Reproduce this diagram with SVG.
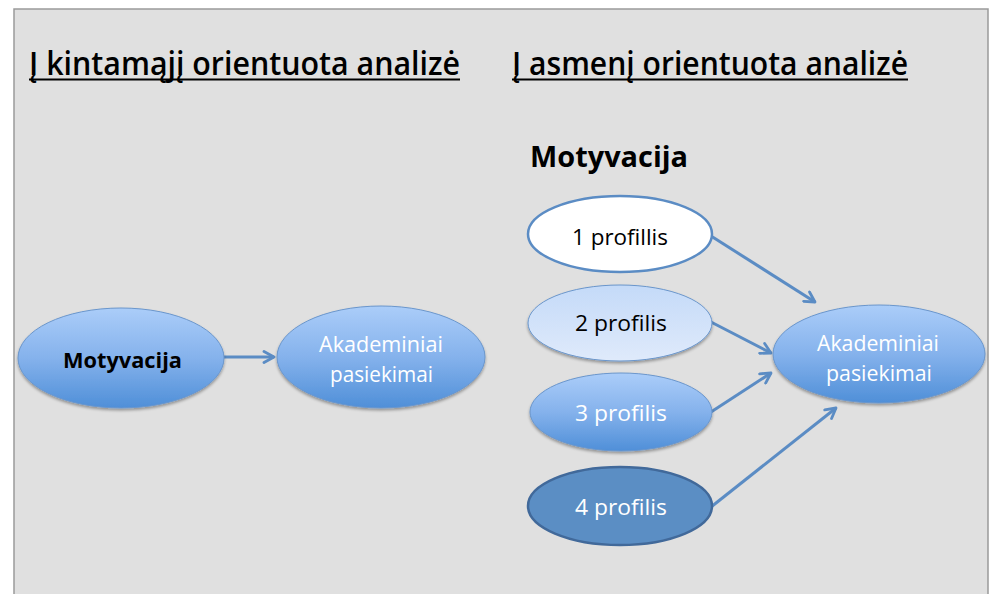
<svg xmlns="http://www.w3.org/2000/svg" width="990" height="594" viewBox="0 0 990 594">
<defs>
<linearGradient id="gBlue" x1="0" y1="0" x2="0" y2="1">
<stop offset="0" stop-color="#abcdf9"/>
<stop offset="0.5" stop-color="#85b2ec"/>
<stop offset="1" stop-color="#4f8fd8"/>
</linearGradient>
<linearGradient id="gLight" x1="0" y1="0" x2="0" y2="1">
<stop offset="0" stop-color="#c4daf8"/>
<stop offset="1" stop-color="#dfeafb"/>
</linearGradient>
<filter id="sh" x="-10%" y="-10%" width="120%" height="130%">
<feGaussianBlur in="SourceAlpha" stdDeviation="1.5"/>
<feOffset dx="0" dy="2" result="b"/>
<feComponentTransfer><feFuncA type="linear" slope="0.35"/></feComponentTransfer>
<feMerge><feMergeNode/><feMergeNode in="SourceGraphic"/></feMerge>
</filter>
<marker id="arr" viewBox="0 0 14 14" refX="12" refY="7" markerWidth="14" markerHeight="14" markerUnits="userSpaceOnUse" orient="auto">
<path d="M2,1.5 L12,7 L2,12.5" fill="none" stroke="#5b8cc4" stroke-width="2.8" stroke-linecap="round" stroke-linejoin="round"/>
</marker>
</defs>
<style>
.title{font-family:"Open Sans","Liberation Sans",sans-serif;font-size:32px;font-weight:600;fill:#000;}
.head{font-family:"Open Sans","Liberation Sans",sans-serif;font-size:28px;font-weight:700;fill:#000;}
.lbl{font-family:"Open Sans","Liberation Sans",sans-serif;font-size:22px;text-anchor:start;}
.blk{fill:#000;}
.wht{fill:#fff;}
.bold{font-weight:700;}
.eb{fill:url(#gBlue);stroke:#6a96cc;stroke-width:1;filter:url(#sh);}
.conn{stroke:#5b8cc4;stroke-width:3;fill:none;marker-end:url(#arr);}
</style>
<rect x="14" y="9" width="974" height="600" fill="#e0e0e0" stroke="#9a9a9a" stroke-width="1.5"/>

<g id="titles">
<text class="title" x="29" y="75" textLength="431" lengthAdjust="spacingAndGlyphs">Į kintamąjį orientuota analizė</text>
<rect x="29" y="78.5" width="431" height="2" fill="#000"/>
<text class="title" x="512" y="75" textLength="396" lengthAdjust="spacingAndGlyphs">Į asmenį orientuota analizė</text>
<rect x="512" y="78.5" width="396" height="2" fill="#000"/>
<text class="head" x="530" y="167" textLength="158" lengthAdjust="spacingAndGlyphs">Motyvacija</text>
</g>

<g id="connectors">
<line class="conn" x1="711" y1="236" x2="815" y2="302"/>
<line class="conn" x1="224" y1="357" x2="274" y2="357"/>
<line class="conn" x1="711" y1="322" x2="771" y2="353"/>
<line class="conn" x1="711" y1="412" x2="771" y2="373"/>
<line class="conn" x1="711" y1="507" x2="836" y2="408"/>
</g>

<g id="node-motyvacija-left">
<ellipse class="eb" cx="121" cy="358" rx="103" ry="50"/>
<text class="lbl blk bold" x="63" y="368" textLength="119" lengthAdjust="spacingAndGlyphs">Motyvacija</text>
</g>

<g id="node-akademiniai-left">
<ellipse class="eb" cx="381" cy="357" rx="104" ry="51"/>
<text class="lbl wht" x="319" y="352" textLength="124" lengthAdjust="spacingAndGlyphs">Akademiniai</text>
<text class="lbl wht" x="330" y="382" textLength="103" lengthAdjust="spacingAndGlyphs">pasiekimai</text>
</g>

<g id="node-profilis-1">
<ellipse cx="620" cy="234" rx="92" ry="38" fill="#ffffff" stroke="#5b8cc4" stroke-width="2.5"/>
<text class="lbl blk" x="572" y="245" textLength="96" lengthAdjust="spacingAndGlyphs">1 profillis</text>
</g>

<g id="node-profilis-2">
<ellipse cx="620" cy="323" rx="92" ry="38" fill="url(#gLight)" stroke="#6a96cc" stroke-width="1" filter="url(#sh)"/>
<text class="lbl blk" x="575" y="331" textLength="92" lengthAdjust="spacingAndGlyphs">2 profilis</text>
</g>

<g id="node-profilis-3">
<ellipse class="eb" cx="621" cy="412" rx="91" ry="39"/>
<text class="lbl wht" x="575" y="421" textLength="92" lengthAdjust="spacingAndGlyphs">3 profilis</text>
</g>

<g id="node-profilis-4">
<ellipse cx="620" cy="506" rx="92" ry="39" fill="#5b8ec4" stroke="#41699a" stroke-width="2.5"/>
<text class="lbl wht" x="575" y="515" textLength="92" lengthAdjust="spacingAndGlyphs">4 profilis</text>
</g>

<g id="node-akademiniai-right">
<ellipse class="eb" cx="879" cy="354" rx="106" ry="49"/>
<text class="lbl wht" x="817" y="351" textLength="122" lengthAdjust="spacingAndGlyphs">Akademiniai</text>
<text class="lbl wht" x="826" y="381" textLength="106" lengthAdjust="spacingAndGlyphs">pasiekimai</text>
</g>
</svg>
